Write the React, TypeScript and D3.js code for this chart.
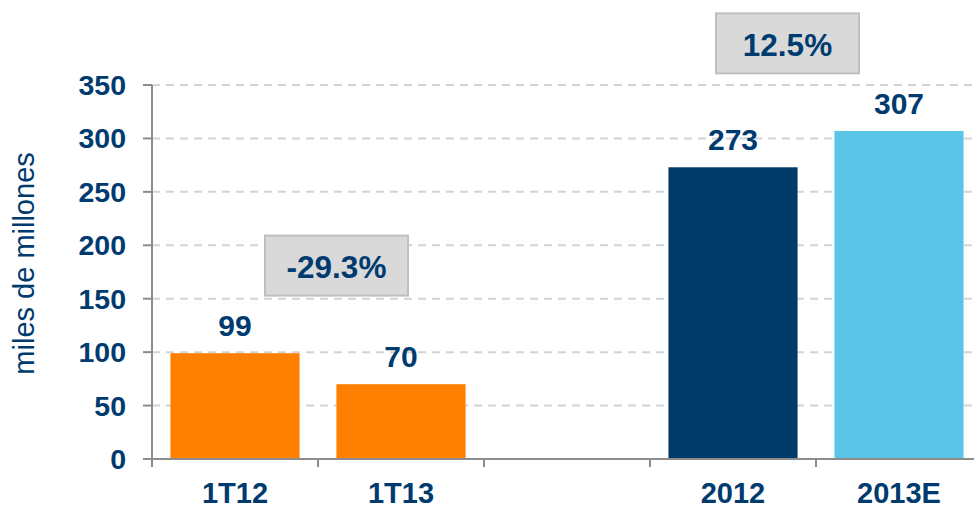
import React, { useEffect, useRef } from 'react';
import * as d3 from 'd3';

const categories: string[] = ['1T12', '1T13', '', '2012', '2013E'];
const values: (number | null)[] = [99, 70, null, 273, 307];
const barColors: string[] = ['#FF7F00', '#FF7F00', 'none', '#003A68', '#5BC5E8'];
const yTicks: number[] = [0, 50, 100, 150, 200, 250, 300, 350];
const changeLabels: string[] = ['-29.3%', '12.5%'];
const changeAnchors: string[] = ['1T12', '2012'];
const changeLevels: number[] = [181, 389];

const App: React.FC = () => {
  const ref = useRef<SVGSVGElement | null>(null);

  useEffect(() => {
    if (!ref.current) return;
    const W = 974;
    const H = 506;
    const textColor = '#003B6F';
    const font = '"Liberation Sans", Arial, sans-serif';

    d3.select(ref.current).selectAll('*').remove();
    const svg = d3.select(ref.current).attr('width', W).attr('height', H);

    const keys = categories.map((c, i) => c || `gap${i}`);
    const x = d3
      .scaleBand<string>()
      .domain(keys)
      .range([152, 152 + 166 * 5])
      .paddingInner(0.222)
      .paddingOuter(0.111);
    const step = x.step();
    const bandStart = (k: string) => (x(k) || 0) - x.paddingInner() * step / 2;

    const y = d3.scaleLinear().domain([0, 350]).range([459, 85]);

    // Gridlines
    svg
      .append('g')
      .selectAll('line')
      .data(yTicks.filter((t) => t > 0))
      .enter()
      .append('line')
      .attr('x1', 152)
      .attr('x2', W)
      .attr('y1', (d) => y(d))
      .attr('y2', (d) => y(d))
      .attr('stroke', '#d4d4d4')
      .attr('stroke-width', 2)
      .attr('stroke-dasharray', '8,6');

    // Bars
    svg
      .append('g')
      .selectAll('rect')
      .data(values.map((v, i) => ({ v, k: keys[i], c: barColors[i] })).filter((d) => d.v !== null))
      .enter()
      .append('rect')
      .attr('x', (d) => x(d.k) || 0)
      .attr('width', x.bandwidth())
      .attr('y', (d) => y(d.v as number))
      .attr('height', (d) => y(0) - y(d.v as number))
      .attr('fill', (d) => d.c);

    // Value labels
    svg
      .append('g')
      .selectAll('text')
      .data(values.map((v, i) => ({ v, k: keys[i] })).filter((d) => d.v !== null))
      .enter()
      .append('text')
      .text((d) => String(d.v))
      .attr('x', (d) => (x(d.k) || 0) + x.bandwidth() / 2)
      .attr('y', (d) => y(d.v as number) - 17)
      .attr('text-anchor', 'middle')
      .attr('font-family', font)
      .attr('font-weight', 'bold')
      .attr('font-size', 30)
      .attr('fill', textColor);

    // Y axis
    const axisColor = '#8c8c8c';
    svg
      .append('line')
      .attr('x1', 152)
      .attr('x2', 152)
      .attr('y1', 85)
      .attr('y2', 466)
      .attr('stroke', axisColor)
      .attr('stroke-width', 2);
    const yt = svg.append('g');
    yt.selectAll('line')
      .data(yTicks)
      .enter()
      .append('line')
      .attr('x1', 143)
      .attr('x2', 152)
      .attr('y1', (d) => y(d))
      .attr('y2', (d) => y(d))
      .attr('stroke', axisColor)
      .attr('stroke-width', 2);
    yt.selectAll('text')
      .data(yTicks)
      .enter()
      .append('text')
      .text((d) => String(d))
      .attr('x', 126)
      .attr('y', (d) => y(d) + 10)
      .attr('text-anchor', 'end')
      .attr('font-family', font)
      .attr('font-weight', 'bold')
      .attr('font-size', 28.5)
      .attr('fill', textColor);

    // X axis
    svg
      .append('line')
      .attr('x1', 143)
      .attr('x2', W)
      .attr('y1', y(0))
      .attr('y2', y(0))
      .attr('stroke', axisColor)
      .attr('stroke-width', 2);
    svg
      .append('g')
      .selectAll('line')
      .data(keys)
      .enter()
      .append('line')
      .attr('x1', (d) => bandStart(d))
      .attr('x2', (d) => bandStart(d))
      .attr('y1', y(0))
      .attr('y2', y(0) + 8)
      .attr('stroke', axisColor)
      .attr('stroke-width', 2);
    svg
      .append('g')
      .selectAll('text')
      .data(keys.filter((k, i) => categories[i] !== ''))
      .enter()
      .append('text')
      .text((d) => d)
      .attr('x', (d) => (x(d) || 0) + x.bandwidth() / 2)
      .attr('y', 503)
      .attr('text-anchor', 'middle')
      .attr('font-family', font)
      .attr('font-weight', 'bold')
      .attr('font-size', 29)
      .attr('fill', textColor);

    // Y title
    svg
      .append('text')
      .text('miles de millones')
      .attr('transform', `translate(34, ${y(183)}) rotate(-90)`)
      .attr('text-anchor', 'middle')
      .attr('font-family', font)
      .attr('font-size', 29)
      .attr('fill', textColor);

    // Change boxes
    const offsets = [113, 66];
    changeLabels.forEach((lab, i) => {
      const left = (x(changeAnchors[i]) || 0) - x.paddingInner() * step / 2 + offsets[i];
      const cy = y(changeLevels[i]);
      svg
        .append('rect')
        .attr('x', left)
        .attr('y', cy - 30)
        .attr('width', 143)
        .attr('height', 60)
        .attr('fill', '#d9d9d9')
        .attr('stroke', '#bfbfbf')
        .attr('stroke-width', 2);
      svg
        .append('text')
        .text(lab)
        .attr('x', left + 71.5)
        .attr('y', cy + 12.5)
        .attr('text-anchor', 'middle')
        .attr('font-family', font)
        .attr('font-weight', 'bold')
        .attr('font-size', 31.5)
        .attr('fill', textColor);
    });
  }, []);

  return <svg ref={ref} style={{ position: 'absolute', left: 0, top: 0 }}></svg>;
};

export default App;
